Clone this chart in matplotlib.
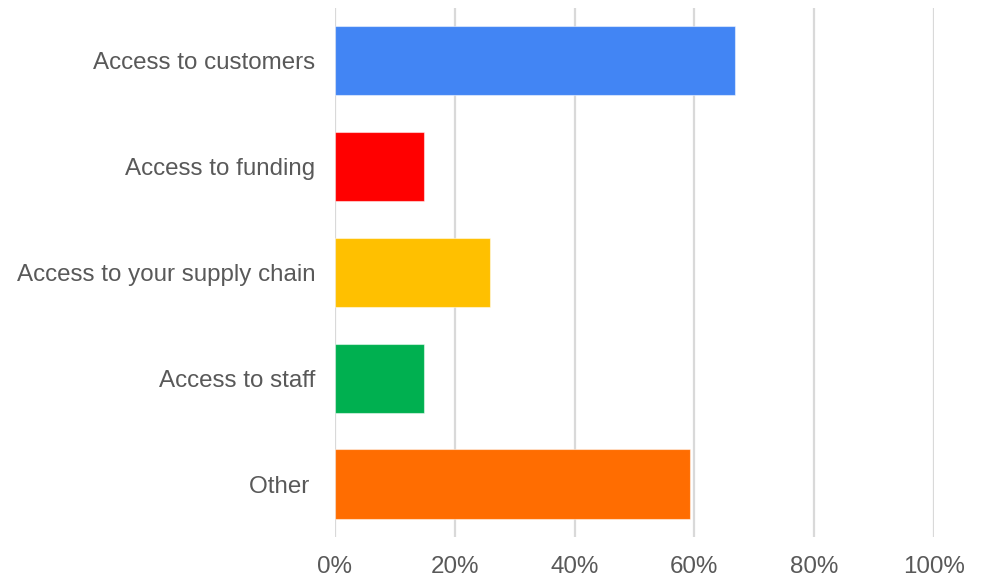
import matplotlib as mpl

mpl.use("Agg")

import matplotlib.pyplot as plt
from matplotlib.ticker import FuncFormatter

categories = [
    "Access to customers",
    "Access to funding",
    "Access to your supply chain",
    "Access to staff",
    "Other ",
]
shares = [66.7, 14.8, 25.9, 14.8, 59.3]
colors = ["#4285F4", "#FF0000", "#FFC000", "#00B050", "#FF6D01"]
xticks = [0, 20, 40, 60, 80, 100]

plt.rcParams["font.family"] = ["Liberation Sans", "DejaVu Sans"]

fig = plt.figure(figsize=(9.82, 5.77), dpi=100)
ax = fig.add_axes([0.3411, 0.0685, 0.6100, 0.9185])

ypos = list(range(len(categories)))
ax.barh(ypos, shares, height=0.66, color=colors,
        edgecolor=(1, 1, 1, 0.5), linewidth=0.8, zorder=2)

ax.set_ylim(4.5, -0.5)
ax.set_xlim(0, 100)
ax.set_yticks(ypos)
ax.set_yticklabels(categories)
ax.set_xticks(xticks)
ax.xaxis.set_major_formatter(FuncFormatter(lambda v, p: "%d%%" % v))

ax.grid(axis="x", color="#d9d9d9", linewidth=1.6, zorder=0)
ax.set_axisbelow(True)
for s in ax.spines.values():
    s.set_visible(False)

ax.tick_params(axis="both", length=0, labelsize=17.4, labelcolor="#595959")
ax.tick_params(axis="y", pad=14)
ax.tick_params(axis="x", pad=13.5)

plt.savefig("out.png", dpi=100)
